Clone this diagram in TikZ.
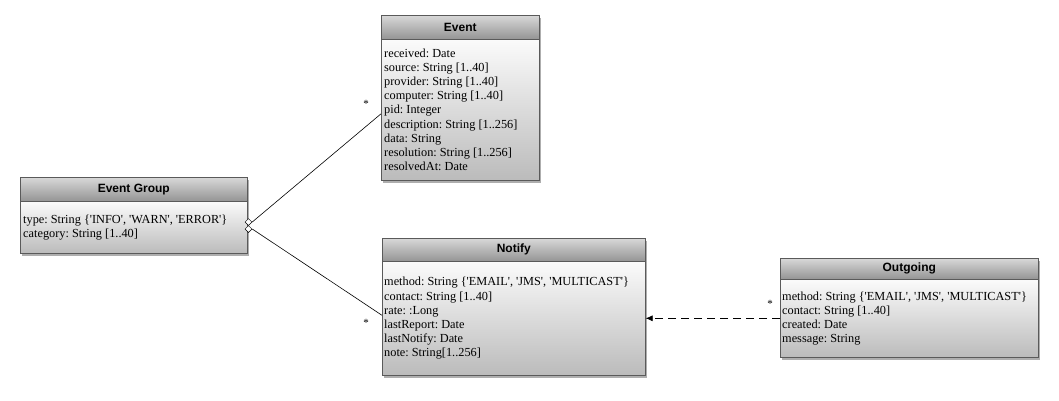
\documentclass[tikz,border=0pt]{standalone}
\usepackage{fontspec}
\setmainfont{Liberation Serif}
\newfontfamily\hdfont{Liberation Sans}
\usetikzlibrary{shapes.geometric,shadows,arrows.meta}
\frenchspacing
\newcommand{\q}{\textquotesingle}
\definecolor{hdtop}{HTML}{D8D8D8}
\definecolor{hdbot}{HTML}{949494}
\definecolor{bdtop}{HTML}{FBFBFB}
\definecolor{bdbot}{HTML}{BBBBBB}
\definecolor{edgec}{HTML}{5A5A5A}
\tikzset{
  boxshadow/.style={drop shadow={shadow xshift=2pt, shadow yshift=-3pt, opacity=0.45, fill=black!70}},
  classhead/.style={draw=edgec, line width=0.6pt, anchor=north west, inner sep=0pt,
    top color=hdtop, bottom color=hdbot, boxshadow,
    font=\hdfont\bfseries\fontsize{12}{14}\selectfont},
  classbody/.style={draw=edgec, line width=0.6pt, anchor=north west, inner sep=0pt,
    top color=bdtop, bottom color=bdbot, boxshadow},
  attrs/.style={anchor=west, inner sep=0pt, align=left,
    font=\frenchspacing\fontsize{12.3}{14.1}\selectfont},
  mult/.style={font=\fontsize{11}{11}\selectfont, inner sep=0pt},
  agg/.style={diamond, draw=black, fill=white, minimum width=7pt, minimum height=7pt, inner sep=0pt, line width=0.5pt},
  link/.style={draw=black, line width=0.6pt},
  deplink/.style={draw=black, line width=0.7pt, dash pattern=on 8pt off 5pt, -{Latex[length=7pt,width=6pt]}},
}
\begin{document}
\begin{tikzpicture}[x=1pt,y=-1pt]
\useasboundingbox[fill=white] (0,0) rectangle (1059,400);

% Event
\node[classhead, minimum width=158pt, minimum height=24pt] (evh) at (381,15) {Event};
\node[classbody, minimum width=158pt, minimum height=141pt] (ev) at (381,39) {};
\node[attrs] (evt) at ([xshift=3pt]ev.west) {received: Date\\
source: String [1..40]\\
provider: String [1..40]\\
computer: String [1..40]\\
pid: Integer\\
description: String [1..256]\\
data: String\\
resolution: String [1..256]\\
resolvedAt: Date};

% Event Group
\node[classhead, minimum width=227pt, minimum height=24pt] (egh) at (20,177) {Event Group};
\node[classbody, minimum width=227pt, minimum height=52pt] (eg) at (20,201) {};
\node[attrs] (egt) at ([xshift=3pt]eg.west) {type: String \{\q INFO\q, \q WARN\q, \q ERROR\q\}\\
category: String [1..40]};

% Notify
\node[classhead, minimum width=263pt, minimum height=23pt] (nth) at (382,238) {Notify};
\node[classbody, minimum width=263pt, minimum height=114pt] (nt) at (382,261) {};
\node[attrs] (ntt) at ([xshift=2pt]nt.west) {method: String \{\q EMAIL\q, \q JMS\q, \q MULTICAST\q\}\\
contact: String [1..40]\\
rate: :Long\\
lastReport: Date\\
lastNotify: Date\\
note: String[1..256]};

% Outgoing
\node[classhead, minimum width=258pt, minimum height=21pt] (ogh) at (780,258) {Outgoing};
\node[classbody, minimum width=258pt, minimum height=78pt] (og) at (780,279) {};
\node[attrs] (ogt) at ([xshift=2pt]og.west) {method: String \{\q EMAIL\q, \q JMS\q, \q MULTICAST\q\}\\
contact: String [1..40]\\
created: Date\\
message: String};

% aggregation diamonds
\node[agg] (d1) at (248.5,222) {};
\node[agg] (d2) at (248.5,229) {};

% connectors
\draw[link] (d1.east) -- ([yshift=-4pt]ev.west);
\draw[link] (d2.east) -- ([yshift=3pt]nt.west);
\draw[deplink] (og.west) -- (nt.east);

% multiplicities
\node[mult] (m1) at (366,104) {*};
\node[mult] (m2) at (366,323) {*};
\node[mult] (m3) at (770,304) {*};
\end{tikzpicture}
\end{document}
